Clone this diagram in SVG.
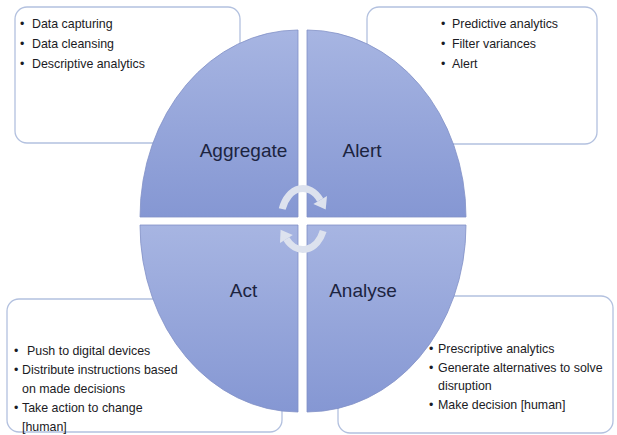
<svg xmlns="http://www.w3.org/2000/svg" width="617" height="435" viewBox="0 0 617 435">
  <defs>
    <linearGradient id="quadFill" x1="0" y1="0" x2="0" y2="1">
      <stop offset="0" stop-color="#a7b5e2"/>
      <stop offset="1" stop-color="#8597d3"/>
    </linearGradient>
    <style>
      .box { fill: #ffffff; stroke: #b3c1df; stroke-width: 1.3; }
      .quad { fill: url(#quadFill); stroke: #8190c6; stroke-width: 0.8; }
      .item { font-family: "Liberation Sans", Arial, sans-serif; font-size: 12.4px; fill: #1b1b24; }
      .label { font-family: "Liberation Sans", Arial, sans-serif; font-size: 19px; fill: #1c2440; text-anchor: middle; }
      .ring { fill: none; stroke: #dde2ee; stroke-width: 7; }
      .head { fill: #dde2ee; }
    </style>
  </defs>

  <rect width="617" height="435" fill="#ffffff"/>

  <!-- Aggregate details -->
  <g id="box-aggregate">
    <rect class="box" x="15" y="7" width="225" height="136" rx="12"/>
    <text class="item" x="20" y="28">•</text>
    <text class="item" x="32" y="28">Data capturing</text>
    <text class="item" x="20" y="48">•</text>
    <text class="item" x="32" y="48">Data cleansing</text>
    <text class="item" x="20" y="68">•</text>
    <text class="item" x="32" y="68">Descriptive analytics</text>
  </g>

  <!-- Alert details -->
  <g id="box-alert">
    <rect class="box" x="367" y="7" width="230" height="137" rx="12"/>
    <text class="item" x="441" y="28">•</text>
    <text class="item" x="452" y="28">Predictive analytics</text>
    <text class="item" x="441" y="48">•</text>
    <text class="item" x="452" y="48">Filter variances</text>
    <text class="item" x="441" y="68">•</text>
    <text class="item" x="452" y="68">Alert</text>
  </g>

  <!-- Act details -->
  <g id="box-act">
    <rect class="box" x="7" y="299" width="275" height="133" rx="12"/>
    <text class="item" x="14" y="355">•</text>
    <text class="item" x="27" y="355">Push to digital devices</text>
    <text class="item" x="14" y="374">•</text>
    <text class="item" x="22" y="374">Distribute instructions based</text>
    <text class="item" x="22" y="393">on made decisions</text>
    <text class="item" x="14" y="412">•</text>
    <text class="item" x="22" y="412">Take action to change</text>
    <text class="item" x="22" y="431">[human]</text>
  </g>

  <!-- Analyse details -->
  <g id="box-analyse">
    <rect class="box" x="338" y="296" width="275" height="137" rx="12"/>
    <text class="item" x="429" y="353">•</text>
    <text class="item" x="438" y="353">Prescriptive analytics</text>
    <text class="item" x="429" y="372">•</text>
    <text class="item" x="438" y="372">Generate alternatives to solve</text>
    <text class="item" x="438" y="390">disruption</text>
    <text class="item" x="429" y="409">•</text>
    <text class="item" x="438" y="409">Make decision [human]</text>
  </g>

  <!-- Four quadrants of the cycle -->
  <g id="quad-aggregate">
    <path class="quad" d="M298,217 L140,217 A158,187 0 0 1 298,30 Z"/>
    <text class="label" x="243.5" y="157">Aggregate</text>
  </g>
  <g id="quad-alert">
    <path class="quad" d="M307,217 L307,30 A159,187 0 0 1 466,217 Z"/>
    <text class="label" x="362" y="157">Alert</text>
  </g>
  <g id="quad-act">
    <path class="quad" d="M298,225 L298,412 A158,187 0 0 1 140,225 Z"/>
    <text class="label" x="243.5" y="297">Act</text>
  </g>
  <g id="quad-analyse">
    <path class="quad" d="M307,225 L466,225 A159,187 0 0 1 307,412 Z"/>
    <text class="label" x="363" y="297">Analyse</text>
  </g>

  <!-- Circular arrows in the centre -->
  <g id="connectors">
    <path class="ring" d="M282.2,209 A22,30.5 0 0 1 320.2,200"/>
    <polygon class="head" points="313.4,203.9 327.0,196.1 325.7,209.5"/>
    <path class="ring" d="M323.2,231 A22,30.5 0 0 1 286.4,239"/>
    <polygon class="head" points="292.8,235 280.0,243 280.6,229.7"/>
  </g>
</svg>
